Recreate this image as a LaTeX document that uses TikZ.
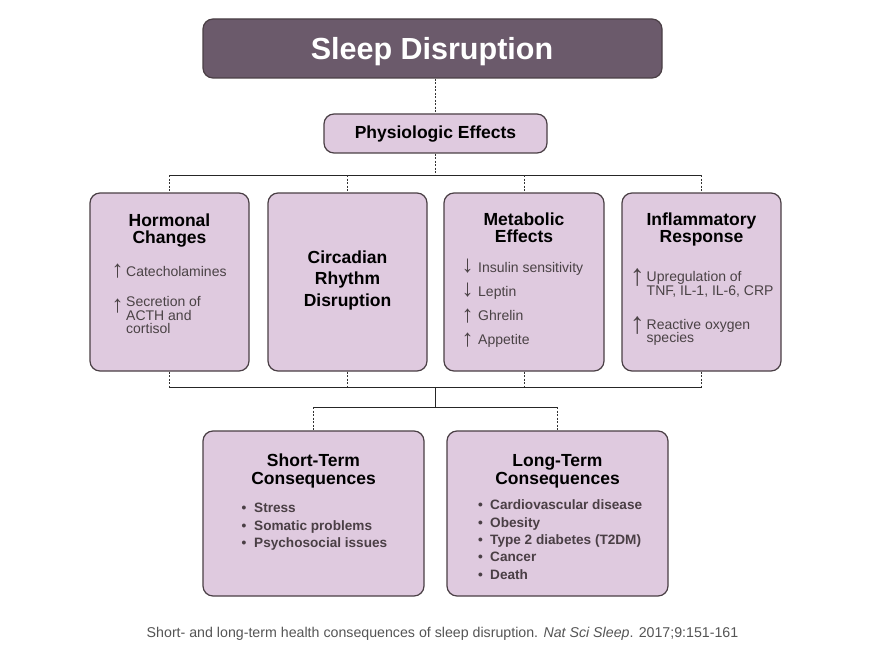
\documentclass[tikz,border=0pt]{standalone}
\usepackage{fontspec}
\setmainfont{Liberation Sans}
\definecolor{boxfill}{HTML}{DFCADF}
\definecolor{boxline}{HTML}{4A3F45}
\definecolor{titlefill}{HTML}{6B5A6B}
\definecolor{bodytext}{HTML}{4A4245}
\definecolor{bullettext}{HTML}{4A3F45}
\definecolor{captext}{HTML}{555555}
\begin{document}
\begin{tikzpicture}[x=1pt,y=-1pt,
  box/.style={draw=boxline, line width=1.2pt, fill=boxfill, rounded corners=10pt, inner sep=0pt},
  titlebox/.style={draw=boxline, line width=1.2pt, fill=titlefill, rounded corners=10pt, inner sep=0pt},
  dashline/.style={draw=black!80, dash pattern=on 2pt off 1.5pt, line width=0.7pt},
  solidline/.style={draw=black!85, line width=0.9pt},
  headtext/.style={font=\bfseries\fontsize{17.5}{19}\selectfont, text=black, inner sep=0pt, anchor=base},
  bodytxt/.style={font=\fontsize{14}{14}\selectfont, text=bodytext, inner sep=0pt, anchor=base west},
  arrtxt/.style={font=\fontsize{24}{24}\selectfont, text=bodytext, inner sep=0pt, anchor=center},
  bigarr/.style={font=\fontsize{30}{30}\selectfont, text=bodytext, inner sep=0pt, anchor=center},
  bultxt/.style={font=\bfseries\fontsize{13.6}{14}\selectfont, text=bullettext, inner sep=0pt, anchor=base west},
  dottxt/.style={font=\bfseries\fontsize{13.6}{14}\selectfont, text=bullettext, inner sep=0pt, anchor=base},
  captxt/.style={font=\fontsize{14.2}{15}\selectfont, text=captext, inner sep=0pt, anchor=base}
]
\useasboundingbox (0,0) rectangle (870,666);
\fill[white] (0,0) rectangle (870,666);

% boxes
\node[titlebox, minimum width=459pt, minimum height=59pt] (title) at (432.5,48.5) {};
\node[box, minimum width=223pt, minimum height=39pt] (phys) at (435.5,133.5) {};
\node[box, minimum width=159pt, minimum height=178pt] (hor) at (169.5,282) {};
\node[box, minimum width=159pt, minimum height=178pt] (cir) at (347.5,282) {};
\node[box, minimum width=160pt, minimum height=178pt] (met) at (524,282) {};
\node[box, minimum width=159pt, minimum height=178pt] (inf) at (701.5,282) {};
\node[box, minimum width=221pt, minimum height=165pt] (st) at (313.5,513.5) {};
\node[box, minimum width=221pt, minimum height=165pt] (lt) at (557.5,513.5) {};

% connectors
\coordinate (bus1) at (435.5,175);
\coordinate (bus2) at (435.5,387.5);
\coordinate (bus3) at (435.5,407);
\draw[dashline] (phys.north |- title.south) -- (phys.north);
\draw[dashline] (phys.south) -- (bus1);
\draw[solidline] (hor.north |- bus1) -- (inf.north |- bus1);
\foreach \n in {hor,cir,met,inf}{
  \draw[dashline] (\n.north |- bus1) -- (\n.north);
  \draw[dashline] (\n.south) -- (\n.south |- bus2);
}
\draw[solidline] (hor.south |- bus2) -- (inf.south |- bus2);
\draw[solidline] (bus2) -- (bus3);
\draw[solidline] (st.north |- bus3) -- (lt.north |- bus3);
\draw[dashline] (st.north |- bus3) -- (st.north);
\draw[dashline] (lt.north |- bus3) -- (lt.north);

% title texts
\node[font=\bfseries\fontsize{30.5}{32}\selectfont, text=white, inner sep=0pt, anchor=base] (titleT) at (432,60) {Sleep Disruption};
\node[headtext] (physT) at (435.5,138.5) {Physiologic Effects};

% hormonal
\node[headtext] (horH1) at (169.5,226.5) {Hormonal};
\node[headtext] (horH2) at (169.5,243.5) {Changes};
\node[arrtxt] (horA1) at (117.7,271) {↑};
\node[bodytxt] (horB1) at (126,276.3) {Catecholamines};
\node[arrtxt] (horA2) at (117.7,305.8) {↑};
\node[bodytxt] (horB2) at (126,306.7) {Secretion of};
\node[bodytxt] (horB3) at (126,320) {ACTH and};
\node[bodytxt] (horB4) at (126,333.3) {cortisol};

% circadian
\node[headtext] (cirH1) at (347.5,263.3) {Circadian};
\node[headtext] (cirH2) at (347.5,284.5) {Rhythm};
\node[headtext] (cirH3) at (347.5,306) {Disruption};

% metabolic
\node[headtext] (metH1) at (524,225.5) {Metabolic};
\node[headtext] (metH2) at (524,242.5) {Effects};
\node[arrtxt] (metA1) at (467.7,266.3) {↓};
\node[bodytxt] (metB1) at (478,272.3) {Insulin sensitivity};
\node[arrtxt] (metA2) at (467.7,290) {↓};
\node[bodytxt] (metB2) at (478,296) {Leptin};
\node[arrtxt] (metA3) at (467.7,315.8) {↑};
\node[bodytxt] (metB3) at (478,320) {Ghrelin};
\node[arrtxt] (metA4) at (467.7,340) {↑};
\node[bodytxt] (metB4) at (478,344) {Appetite};

% inflammatory
\node[headtext] (infH1) at (701.5,225.5) {Inflammatory};
\node[headtext] (infH2) at (701.5,242.5) {Response};
\node[bigarr] (infA1) at (637.3,278) {↑};
\node[bodytxt] (infB1) at (646.5,281.5) {Upregulation of};
\node[bodytxt] (infB2) at (646.5,295.5) {TNF, IL-1, IL-6, CRP};
\node[bigarr] (infA2) at (637.3,325.8) {↑};
\node[bodytxt] (infB3) at (646.5,329.5) {Reactive oxygen};
\node[bodytxt] (infB4) at (646.5,342.5) {species};

% short-term
\node[headtext] (stH1) at (313.5,466) {Short-Term};
\node[headtext] (stH2) at (313.5,484) {Consequences};
\node[dottxt] (stD1) at (244,512.7) {•};
\node[bultxt] (stB1) at (254,512.7) {Stress};
\node[dottxt] (stD2) at (244,530) {•};
\node[bultxt] (stB2) at (254,530) {Somatic problems};
\node[dottxt] (stD3) at (244,547.3) {•};
\node[bultxt] (stB3) at (254,547.3) {Psychosocial issues};

% long-term
\node[headtext] (ltH1) at (557.5,466) {Long-Term};
\node[headtext] (ltH2) at (557.5,484) {Consequences};
\node[dottxt] (ltD1) at (480.5,509.3) {•};
\node[bultxt] (ltB1) at (490,509.3) {Cardiovascular disease};
\node[dottxt] (ltD2) at (480.5,527) {•};
\node[bultxt] (ltB2) at (490,527) {Obesity};
\node[dottxt] (ltD3) at (480.5,544.3) {•};
\node[bultxt] (ltB3) at (490,544.3) {Type 2 diabetes (T2DM)};
\node[dottxt] (ltD4) at (480.5,561) {•};
\node[bultxt] (ltB4) at (490,561) {Cancer};
\node[dottxt] (ltD5) at (480.5,579) {•};
\node[bultxt] (ltB5) at (490,579) {Death};

% caption
\node[captxt] (caption) at (442.5,637.5) {Short- and long-term health consequences of sleep disruption. \textit{Nat Sci Sleep}. 2017;9:151-161};
\end{tikzpicture}
\end{document}
